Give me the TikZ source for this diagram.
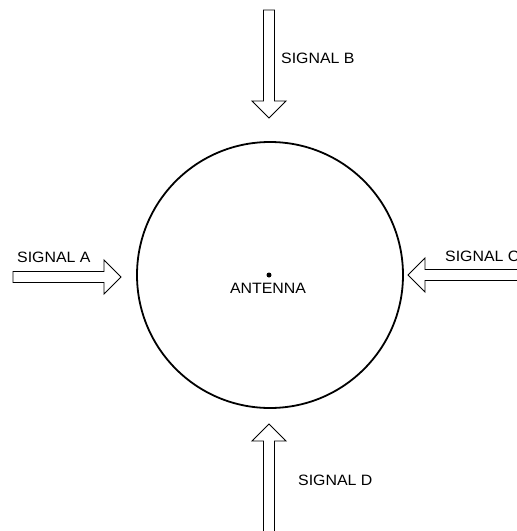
\documentclass[tikz,border=0pt]{standalone}
\usepackage{fontspec}
\setmainfont{Liberation Sans}[FakeStretch=1.06]
\begin{document}
\begin{tikzpicture}[x=1pt,y=-1pt,
  lbl/.style={inner sep=0pt, anchor=west, font=\fontsize{15}{18}\selectfont},
  hollow/.style={draw=black, line width=0.9pt, fill=white, line join=miter},
  ring/.style={circle, draw=black, line width=1.8pt, minimum size=266pt, inner sep=0pt}]
  \useasboundingbox (0,0) rectangle (517,531);

  % coverage circle and antenna
  \node[ring] (ring) at (270,275) {};
  \node[circle, fill=black, minimum size=5pt, inner sep=0pt] (ant) at (269,275) {};
  \node[lbl, anchor=center] (antlbl) at (268,288.5) {ANTENNA};

  % signal A, from the left
  \draw[hollow] (13,271.5) -- (104,271.5) -- (104,260) -- (121,277) -- (104,294)
    -- (104,282.5) -- (13,282.5) -- cycle;
  \node[lbl] (sa) at (17,257) {SIGNAL A};

  % signal B, from the top
  \draw[hollow] (263.5,10) -- (274.5,10) -- (274.5,101) -- (286,101) -- (269,118)
    -- (252,101) -- (263.5,101) -- cycle;
  \node[lbl] (sb) at (281,58) {SIGNAL B};

  % signal C, from the right
  \draw[hollow] (540,269.5) -- (425,269.5) -- (425,258) -- (408,275) -- (425,292)
    -- (425,280.5) -- (540,280.5);
  \node[lbl] (sc) at (445,256.5) {SIGNAL C};

  % signal D, from the bottom
  \draw[hollow] (263.5,550) -- (263.5,441) -- (252,441) -- (269,424) -- (286,441)
    -- (274.5,441) -- (274.5,550);
  \node[lbl] (sd) at (298,480) {SIGNAL D};
\end{tikzpicture}
\end{document}
